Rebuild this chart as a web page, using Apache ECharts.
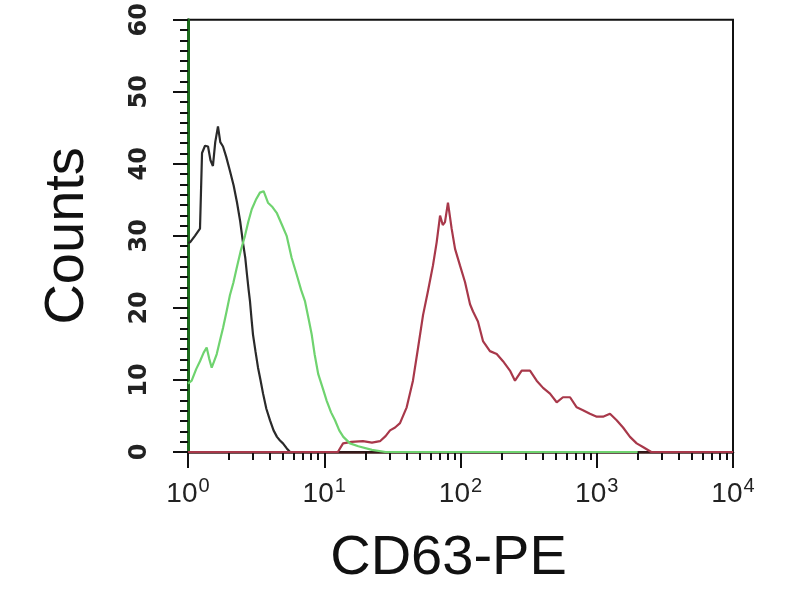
<!DOCTYPE html>
<html><head><meta charset="utf-8">
<script src="https://cdn.jsdelivr.net/npm/echarts@6/dist/echarts.min.js"></script>
<style>html,body{margin:0;padding:0;background:#fff}#c{width:800px;height:600px}</style>
</head><body><div id="c"></div>
<script>
// x values are log10 of fluorescence intensity (decades 10^0 .. 10^4)
const decades = [0, 1, 2, 3, 4];
const yTicks = [0, 10, 20, 30, 40, 50, 60];

const blackX = [0, 0.015, 0.051, 0.088, 0.103, 0.125, 0.147, 0.165, 0.183, 0.2, 0.220, 0.237, 0.257, 0.28, 0.308, 0.335, 0.360, 0.383, 0.404, 0.420, 0.433, 0.445, 0.455, 0.466, 0.477, 0.495, 0.514, 0.532, 0.551, 0.575, 0.602, 0.628, 0.653, 0.675, 0.697, 0.725, 0.749, 0.78];
const blackY = [29, 29.1, 30, 31, 41.5, 42.5, 42.4, 40.5, 39.7, 43, 45.2, 43, 42.4, 41, 39, 37, 34.6, 32, 29, 27, 24.6, 22.5, 20.9, 18.5, 16.3, 14, 11.7, 10, 8.1, 6, 4.4, 3, 2.1, 1.6, 1.2, 0.5, 0, 0];

const greenX = [0, 0.027, 0.06, 0.088, 0.115, 0.137, 0.155, 0.174, 0.19, 0.211, 0.235, 0.257, 0.283, 0.308, 0.333, 0.357, 0.388, 0.418, 0.443, 0.468, 0.498, 0.528, 0.555, 0.587, 0.62, 0.651, 0.69, 0.724, 0.76, 0.798, 0.83, 0.859, 0.885, 0.908, 0.93, 0.956, 0.99, 1.018, 1.05, 1.079, 1.11, 1.140, 1.189, 1.25, 1.35, 1.45, 3.3];
const greenY = [9.5, 9.9, 11.5, 12.6, 13.8, 14.5, 13, 11.7, 12.5, 13.6, 15.5, 17.2, 19.5, 21.8, 23.5, 25.5, 28, 30, 32, 33.7, 35, 36, 36.2, 34.6, 34, 33.2, 31.5, 30, 27, 24.6, 22.5, 20.9, 18.5, 16.3, 13.5, 10.8, 8.8, 7.1, 5.5, 4.4, 3, 2.1, 1.2, 0.8, 0.3, 0, 0];

const redX = [0, 1.10, 1.138, 1.2, 1.284, 1.35, 1.409, 1.45, 1.483, 1.52, 1.556, 1.605, 1.651, 1.688, 1.725, 1.761, 1.798, 1.825, 1.850, 1.870, 1.886, 1.908, 1.935, 1.960, 1.996, 2.033, 2.070, 2.092, 2.128, 2.165, 2.216, 2.266, 2.312, 2.363, 2.400, 2.449, 2.510, 2.559, 2.606, 2.657, 2.706, 2.752, 2.804, 2.853, 2.899, 2.950, 3.000, 3.046, 3.097, 3.146, 3.193, 3.244, 3.293, 3.339, 3.4, 4];
const redY = [0, 0, 1.2, 1.4, 1.5, 1.3, 1.5, 2.2, 3, 3.4, 4, 6.2, 9.9, 14.4, 19, 22.3, 25.9, 29.1, 32.8, 31.5, 31.9, 34.6, 31, 28.2, 25.9, 23.6, 20.5, 19.5, 18.1, 15.4, 14, 13.6, 12.6, 11.3, 9.9, 11.3, 11.3, 9.9, 8.9, 8.1, 6.9, 7.6, 7.6, 6.2, 5.8, 5.3, 4.9, 4.9, 5.3, 4.4, 3.4, 2.1, 1.2, 0.7, 0, 0];

const zip = (xs, ys) => xs.map((x, i) => [x, ys[i]]);
const minorX = [];
for (let d = 0; d < 4; d++) for (let k = 2; k <= 9; k++) minorX.push(d + Math.log10(k));

const chart = echarts.init(document.getElementById('c'));
const FONT = 'Liberation Sans';
chart.setOption({
  animation: false,
  backgroundColor: '#fff',
  grid: { left: 188, right: 67, top: 15, bottom: 148, show: true, borderColor: '#111', borderWidth: 2 },
  xAxis: [{
    type: 'value', min: 0, max: 4, interval: 1, position: 'bottom',
    name: 'CD63-PE', nameLocation: 'middle', nameGap: 79,
    nameTextStyle: { fontFamily: FONT, fontSize: 56, color: '#111', padding: [0, 24, 0, 0] },
    axisLine: { show: true, onZero: false, lineStyle: { color: '#3a1a1a', width: 2.5 } },
    axisTick: { show: true, length: 16, lineStyle: { color: '#111', width: 2 } },
    splitLine: { show: false },
    axisLabel: {
      margin: 24, color: '#222',
      formatter: v => '{b|10}{s|' + v + '}',
      rich: {
        b: { fontFamily: FONT, fontSize: 28, color: '#222' },
        s: { fontFamily: FONT, fontSize: 20, color: '#222', padding: [0, 0, 16, 1] }
      }
    }
  }, {
    type: 'value', min: 0, max: 4, position: 'bottom', offset: 0,
    axisLine: { show: false },
    axisLabel: { show: false },
    splitLine: { show: false },
    axisTick: { show: true, length: 8, customValues: minorX, lineStyle: { color: '#111', width: 2 } }
  }],
  yAxis: {
    type: 'value', min: 0, max: 60, interval: 10,
    name: 'Counts', nameLocation: 'middle', nameGap: 92,
    nameTextStyle: { fontFamily: FONT, fontSize: 56, color: '#111' },
    axisLine: { show: true, lineStyle: { color: '#1d6b1d', width: 3 } },
    axisTick: { show: true, length: 15, lineStyle: { color: '#111', width: 2 } },
    minorTick: { show: true, splitNumber: 7, length: 8, lineStyle: { color: '#111', width: 2 } },
    splitLine: { show: false },
    axisLabel: { rotate: 90, margin: 36, fontFamily: 'DejaVu Sans', fontSize: 24, fontWeight: 'bold', color: '#222',
      formatter: v => String(v) }
  },
  series: [
    { type: 'line', data: zip(blackX, blackY), showSymbol: false, xAxisIndex: 0,
      lineStyle: { color: '#2a2a2a', width: 2.2 }, z: 3 },
    { type: 'line', data: zip(redX, redY), showSymbol: false, xAxisIndex: 0,
      lineStyle: { color: '#a8384a', width: 2.2 }, z: 4 },
    { type: 'line', data: zip(greenX, greenY), showSymbol: false, xAxisIndex: 0,
      lineStyle: { color: '#6fd36f', width: 2.2 }, z: 5 }
  ]
});
</script></body></html>
